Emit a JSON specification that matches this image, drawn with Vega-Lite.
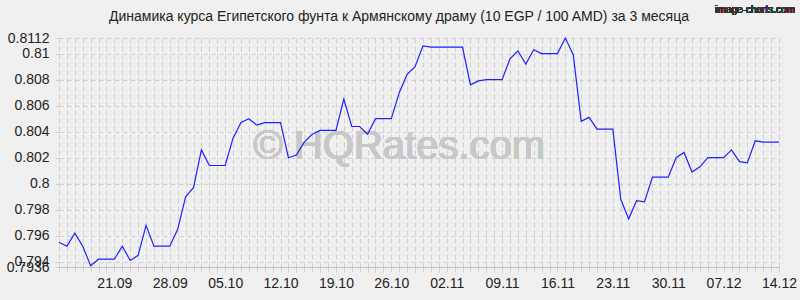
{
  "$schema": "https://vega.github.io/schema/vega-lite/v6.json",
  "autosize": {"type": "none"},
  "width": 720,
  "height": 229,
  "padding": {"left": 59, "top": 38, "right": 21, "bottom": 33},
  "background": "#f0f0f0",
  "title": {
    "text": "Динамика курса Египетского фунта к Армянскому драму (10 EGP / 100 AMD) за 3 месяца",
    "anchor": "middle",
    "frame": "group",
    "font": "Liberation Sans",
    "fontSize": 14,
    "fontWeight": "normal",
    "color": "#222222",
    "dx": -20,
    "dy": 27,
    "offset": 8
  },
  "config": {
    "view": {"stroke": null},
    "axis": {"labelFont": "Liberation Sans", "labelFontSize": 14, "labelColor": "#222222"}
  },
  "data": {
    "values": [
      {"date": "2025-09-14T00:00:00", "rate": 0.7955},
      {"date": "2025-09-15T00:00:00", "rate": 0.7952},
      {"date": "2025-09-16T00:00:00", "rate": 0.7962},
      {"date": "2025-09-17T00:00:00", "rate": 0.7952},
      {"date": "2025-09-18T00:00:00", "rate": 0.7937},
      {"date": "2025-09-19T00:00:00", "rate": 0.7942},
      {"date": "2025-09-20T00:00:00", "rate": 0.7942},
      {"date": "2025-09-21T00:00:00", "rate": 0.7942},
      {"date": "2025-09-22T00:00:00", "rate": 0.7952},
      {"date": "2025-09-23T00:00:00", "rate": 0.7941},
      {"date": "2025-09-24T00:00:00", "rate": 0.7945},
      {"date": "2025-09-25T00:00:00", "rate": 0.7968},
      {"date": "2025-09-26T00:00:00", "rate": 0.7952},
      {"date": "2025-09-27T00:00:00", "rate": 0.7952},
      {"date": "2025-09-28T00:00:00", "rate": 0.7952},
      {"date": "2025-09-29T00:00:00", "rate": 0.7965},
      {"date": "2025-09-30T00:00:00", "rate": 0.7990},
      {"date": "2025-10-01T00:00:00", "rate": 0.7997},
      {"date": "2025-10-02T00:00:00", "rate": 0.8026},
      {"date": "2025-10-03T00:00:00", "rate": 0.8014},
      {"date": "2025-10-04T00:00:00", "rate": 0.8014},
      {"date": "2025-10-05T00:00:00", "rate": 0.8014},
      {"date": "2025-10-06T00:00:00", "rate": 0.8035},
      {"date": "2025-10-07T00:00:00", "rate": 0.8047},
      {"date": "2025-10-08T00:00:00", "rate": 0.8050},
      {"date": "2025-10-09T00:00:00", "rate": 0.8045},
      {"date": "2025-10-10T00:00:00", "rate": 0.8047},
      {"date": "2025-10-11T00:00:00", "rate": 0.8047},
      {"date": "2025-10-12T00:00:00", "rate": 0.8047},
      {"date": "2025-10-13T00:00:00", "rate": 0.8020},
      {"date": "2025-10-14T00:00:00", "rate": 0.8022},
      {"date": "2025-10-15T00:00:00", "rate": 0.8032},
      {"date": "2025-10-16T00:00:00", "rate": 0.8038},
      {"date": "2025-10-17T00:00:00", "rate": 0.8041},
      {"date": "2025-10-18T00:00:00", "rate": 0.8041},
      {"date": "2025-10-19T00:00:00", "rate": 0.8041},
      {"date": "2025-10-20T00:00:00", "rate": 0.8065},
      {"date": "2025-10-21T00:00:00", "rate": 0.8044},
      {"date": "2025-10-22T00:00:00", "rate": 0.8044},
      {"date": "2025-10-23T00:00:00", "rate": 0.8038},
      {"date": "2025-10-24T00:00:00", "rate": 0.8050},
      {"date": "2025-10-25T00:00:00", "rate": 0.8050},
      {"date": "2025-10-26T00:00:00", "rate": 0.8050},
      {"date": "2025-10-27T00:00:00", "rate": 0.8070},
      {"date": "2025-10-28T00:00:00", "rate": 0.8084},
      {"date": "2025-10-29T00:00:00", "rate": 0.8090},
      {"date": "2025-10-30T00:00:00", "rate": 0.8106},
      {"date": "2025-10-31T00:00:00", "rate": 0.8105},
      {"date": "2025-11-01T00:00:00", "rate": 0.8105},
      {"date": "2025-11-02T00:00:00", "rate": 0.8105},
      {"date": "2025-11-03T00:00:00", "rate": 0.8105},
      {"date": "2025-11-04T00:00:00", "rate": 0.8105},
      {"date": "2025-11-05T00:00:00", "rate": 0.8076},
      {"date": "2025-11-06T00:00:00", "rate": 0.8079},
      {"date": "2025-11-07T00:00:00", "rate": 0.8080},
      {"date": "2025-11-08T00:00:00", "rate": 0.8080},
      {"date": "2025-11-09T00:00:00", "rate": 0.8080},
      {"date": "2025-11-10T00:00:00", "rate": 0.8096},
      {"date": "2025-11-11T00:00:00", "rate": 0.8102},
      {"date": "2025-11-12T00:00:00", "rate": 0.8092},
      {"date": "2025-11-13T00:00:00", "rate": 0.8103},
      {"date": "2025-11-14T00:00:00", "rate": 0.8100},
      {"date": "2025-11-15T00:00:00", "rate": 0.8100},
      {"date": "2025-11-16T00:00:00", "rate": 0.8100},
      {"date": "2025-11-17T00:00:00", "rate": 0.8112},
      {"date": "2025-11-18T00:00:00", "rate": 0.8099},
      {"date": "2025-11-19T00:00:00", "rate": 0.8048},
      {"date": "2025-11-20T00:00:00", "rate": 0.8051},
      {"date": "2025-11-21T00:00:00", "rate": 0.8042},
      {"date": "2025-11-22T00:00:00", "rate": 0.8042},
      {"date": "2025-11-23T00:00:00", "rate": 0.8042},
      {"date": "2025-11-24T00:00:00", "rate": 0.7988},
      {"date": "2025-11-25T00:00:00", "rate": 0.7973},
      {"date": "2025-11-26T00:00:00", "rate": 0.7987},
      {"date": "2025-11-27T00:00:00", "rate": 0.7986},
      {"date": "2025-11-28T00:00:00", "rate": 0.8005},
      {"date": "2025-11-29T00:00:00", "rate": 0.8005},
      {"date": "2025-11-30T00:00:00", "rate": 0.8005},
      {"date": "2025-12-01T00:00:00", "rate": 0.8020},
      {"date": "2025-12-02T00:00:00", "rate": 0.8024},
      {"date": "2025-12-03T00:00:00", "rate": 0.8009},
      {"date": "2025-12-04T00:00:00", "rate": 0.8013},
      {"date": "2025-12-05T00:00:00", "rate": 0.8020},
      {"date": "2025-12-06T00:00:00", "rate": 0.8020},
      {"date": "2025-12-07T00:00:00", "rate": 0.8020},
      {"date": "2025-12-08T00:00:00", "rate": 0.8026},
      {"date": "2025-12-09T00:00:00", "rate": 0.8017},
      {"date": "2025-12-10T00:00:00", "rate": 0.8016},
      {"date": "2025-12-11T00:00:00", "rate": 0.8033},
      {"date": "2025-12-12T00:00:00", "rate": 0.8032},
      {"date": "2025-12-13T00:00:00", "rate": 0.8032},
      {"date": "2025-12-14T00:00:00", "rate": 0.8032}
    ]
  },
  "layer": [
    {
      "mark": {"type": "text", "text": "© HQRates.com", "font": "Liberation Sans", "fontSize": 40, "color": "#c8c8c8", "align": "center", "baseline": "middle"},
      "encoding": {
        "x": {"datum": {"year": 2025, "month": 10, "date": 27}, "type": "temporal"},
        "y": {"datum": 0.8028, "type": "quantitative"}
      }
    },
    {
      "mark": {"type": "text", "text": "image-charts.com", "font": "Liberation Sans", "fontSize": 10, "color": "#333333", "align": "right", "baseline": "middle"},
      "encoding": {
        "x": {"datum": {"year": 2025, "month": 12, "date": 16}, "type": "temporal"},
        "y": {"datum": 0.81338, "type": "quantitative"}
      }
    },
    {
      "mark": {"type": "line", "color": "#2020ff", "strokeWidth": 1.2, "interpolate": "linear"},
      "encoding": {
        "x": {
          "field": "date",
          "type": "temporal",
          "title": null,
          "scale": {"domain": [{"year": 2025, "month": 9, "date": 14}, {"year": 2025, "month": 12, "date": 14}], "nice": false},
          "axis": {
            "tickCount": {"interval": "day", "step": 1},
            "labelExpr": "day(datum.value) == 0 && datum.value > datetime(2025, 8, 15) ? timeFormat(datum.value, '%d.%m') : ''",
            "labelOverlap": false,
            "labelFlush": false,
            "labelPadding": 4,
            "grid": true,
            "gridColor": "#cfcfcf",
            "gridDash": [5, 3],
            "gridWidth": 1,
            "ticks": true,
            "tickSize": 5,
            "tickColor": "#cfcfcf",
            "domain": true,
            "domainColor": "#bdbdbd"
          }
        },
        "y": {
          "field": "rate",
          "type": "quantitative",
          "title": null,
          "scale": {"domain": [0.7936, 0.8112], "zero": false, "nice": false},
          "axis": {
            "values": [0.7936, 0.794, 0.796, 0.798, 0.8, 0.802, 0.804, 0.806, 0.808, 0.81, 0.8112],
            "tickCount": 50,
            "labelExpr": "'' + datum.value",
            "labelOverlap": false,
            "labelPadding": 2,
            "grid": true,
            "gridColor": "#cfcfcf",
            "gridDash": [4, 4],
            "gridWidth": 1,
            "ticks": true,
            "tickSize": 8,
            "tickColor": "#cfcfcf",
            "tickDash": [4, 4],
            "domain": false
          }
        }
      }
    }
  ]
}
